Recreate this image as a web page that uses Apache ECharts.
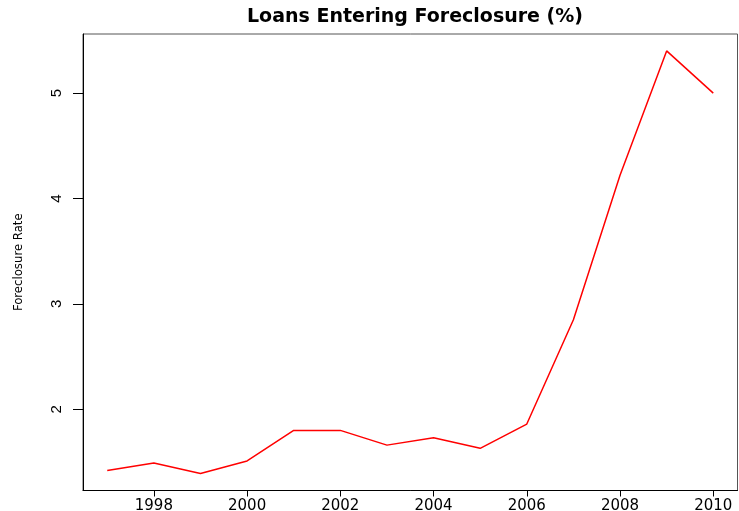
<!DOCTYPE html>
<html>
<head>
<meta charset="utf-8">
<script src="https://cdn.jsdelivr.net/npm/echarts@6/dist/echarts.min.js"></script>
<style>
html,body{margin:0;padding:0;background:#fff;}
#chart{width:739px;height:511px;}
</style>
</head>
<body>
<div id="chart"></div>
<script>
var titleText = 'Loans Entering Foreclosure (%)';
var yAxisTitle = 'Foreclosure Rate';
var years = [1997, 1998, 1999, 2000, 2001, 2002, 2003, 2004, 2005, 2006, 2007, 2008, 2009, 2010];
var rates = [1.42, 1.49, 1.39, 1.51, 1.80, 1.80, 1.66, 1.73, 1.63, 1.86, 2.85, 4.22, 5.40, 5.00];
var xTicks = [1998, 2000, 2002, 2004, 2006, 2008, 2010];
var yTicks = [2, 3, 4, 5];

// R-style 4% axis extension
function extend(arr) {
  var lo = Math.min.apply(null, arr), hi = Math.max.apply(null, arr);
  var d = (hi - lo) * 0.04;
  return [lo - d, hi + d];
}
var xr = extend(years), yr = extend(rates);

var chart = echarts.init(document.getElementById('chart'), null, {renderer: 'canvas'});
chart.setOption({
  backgroundColor: '#ffffff',
  animation: false,
  title: {
    text: titleText,
    left: 410, top: 3, textAlign: 'center',
    textStyle: {fontFamily: 'DejaVu Sans', fontWeight: 'bold', fontSize: 19, color: '#000'}
  },
  grid: {
    left: 83, right: 1.5, top: 34, bottom: 20.5,
    outerBoundsMode: 'none', containLabel: false,
    show: true, borderColor: '#555', borderWidth: 1, backgroundColor: 'transparent'
  },
  xAxis: {
    type: 'value', min: xr[0], max: xr[1],
    splitLine: {show: false},
    axisLine: {show: true, lineStyle: {color: '#000', width: 1}},
    axisTick: {show: true, length: 6, customValues: xTicks, lineStyle: {color: '#000'}},
    axisLabel: {
      customValues: xTicks, margin: 8,
      fontFamily: 'DejaVu Sans', fontSize: 15, color: '#000',
      formatter: function (v) { return String(Math.round(v)); }
    }
  },
  yAxis: {
    type: 'value', min: yr[0], max: yr[1],
    name: yAxisTitle, nameLocation: 'middle', nameRotate: 90, nameGap: 58,
    nameTextStyle: {fontFamily: '"Liberation Sans Narrow", "DejaVu Sans Condensed", "Arial Narrow", sans-serif', fontSize: 13, color: '#000'},
    splitLine: {show: false},
    axisLine: {show: true, lineStyle: {color: '#000', width: 1}},
    axisTick: {show: true, length: 10, customValues: yTicks, lineStyle: {color: '#000'}},
    axisLabel: {
      customValues: yTicks, rotate: 90, margin: 19,
      fontFamily: 'Liberation Sans', fontSize: 15, color: '#000',
      formatter: function (v) { return String(Math.round(v)); }
    }
  },
  series: [{
    type: 'line',
    data: years.map(function (y, i) { return [y, rates[i]]; }),
    showSymbol: false, symbol: 'none',
    lineStyle: {color: '#ff0000', width: 1.5},
    itemStyle: {color: '#ff0000'}
  }]
});
</script>
</body>
</html>
